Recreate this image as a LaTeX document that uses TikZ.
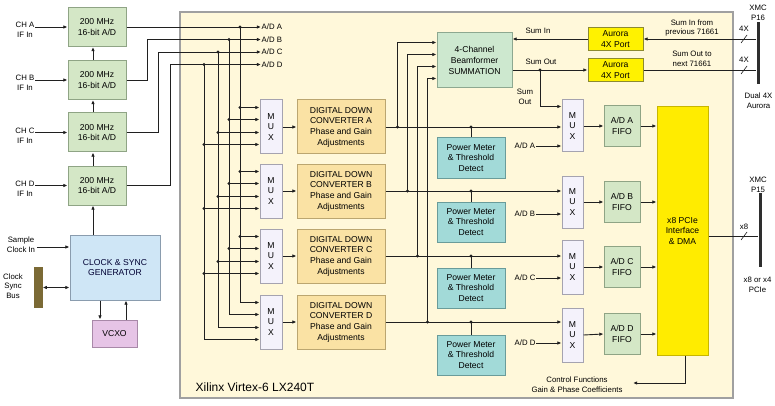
\documentclass[tikz,border=0pt]{standalone}
\usepackage{fontspec}
\setmainfont{Liberation Sans}
\usetikzlibrary{arrows.meta,calc}
\newcommand\bxf{\fontsize{8.6}{10.6}\selectfont}
\newcommand\lbf{\fontsize{7.8}{9.6}\selectfont}
\newcommand\xilf{\fontsize{12}{14}\selectfont}
\definecolor{fpgaF}{HTML}{FFF8DA}
\definecolor{fpgaD}{HTML}{A0A0A0}
\definecolor{adF}{HTML}{D4E7C6}
\definecolor{adD}{HTML}{8FA485}
\definecolor{clkF}{HTML}{CFE6F6}
\definecolor{clkD}{HTML}{8A9CAE}
\definecolor{vcxoF}{HTML}{E6C4E6}
\definecolor{vcxoD}{HTML}{A888A8}
\definecolor{muxF}{HTML}{F4F2FB}
\definecolor{muxD}{HTML}{A5A3B0}
\definecolor{ddcF}{HTML}{FAE2A4}
\definecolor{ddcD}{HTML}{BBA670}
\definecolor{bfF}{HTML}{CDE8CF}
\definecolor{bfD}{HTML}{8DA890}
\definecolor{aurF}{HTML}{FFF200}
\definecolor{aurD}{HTML}{8C8A30}
\definecolor{pmF}{HTML}{A2DAD8}
\definecolor{pmD}{HTML}{6A9C9A}
\definecolor{pcieF}{HTML}{FFEC00}
\definecolor{pcieD}{HTML}{C8B600}
\definecolor{busC}{HTML}{2E2E2E}
\definecolor{csbC}{HTML}{7B6A35}
\definecolor{lnC}{HTML}{202020}
\tikzset{
  base/.style={draw, line width=1pt, align=center, inner sep=0pt, font=\bxf, text=black},
  fpga/.style={draw=fpgaD, fill=fpgaF, line width=1.6pt, minimum width=553pt, minimum height=386pt, inner sep=0pt},
  adbox/.style={base, fill=adF, draw=adD, minimum width=58pt, minimum height=39pt},
  clkbox/.style={base, fill=clkF, draw=clkD, minimum width=90pt, minimum height=65pt, text=black!80!blue},
  vcxobox/.style={base, fill=vcxoF, draw=vcxoD, minimum width=45pt, minimum height=27pt},
  muxbox/.style={base, fill=muxF, draw=muxD, minimum width=22pt, minimum height=54pt},
  ddcbox/.style={base, fill=ddcF, draw=ddcD, minimum width=88pt, minimum height=54pt},
  bfbox/.style={base, fill=bfF, draw=bfD, minimum width=75pt, minimum height=55pt},
  aurbox/.style={base, fill=aurF, draw=aurD, minimum width=55pt, minimum height=23pt},
  pmbox/.style={base, fill=pmF, draw=pmD, minimum width=68pt, minimum height=40pt},
  fifobox/.style={base, fill=adF, draw=adD, minimum width=36pt, minimum height=41pt},
  pciebox/.style={base, fill=pcieF, draw=pcieD, minimum width=51pt, minimum height=248pt},
  busbar/.style={fill=busC, draw=none, minimum width=3pt, inner sep=0pt},
  csbar/.style={fill=csbC, draw=none, minimum width=9pt, minimum height=41pt, inner sep=0pt},
  lbl/.style={align=center, inner sep=0.5pt, font=\lbf},
  ln/.style={draw=lnC, line width=0.9pt},
  arr/.style={ln, -{Latex[length=4.2pt,width=3.6pt]}},
  arrtwo/.style={ln, {Latex[length=4.2pt,width=3.6pt]}-{Latex[length=4.2pt,width=3.6pt]}},
}
\begin{document}
\begin{tikzpicture}[x=1pt,y=-1pt]
\useasboundingbox (0,0) rectangle (775,406);
% FPGA
\node[fpga] (fpga) at (456.5,205) {};
\node[lbl, anchor=west, font=\xilf] (xil) at (195,387) {Xilinx Virtex-6 LX240T};

% A/D converters
\node[adbox] (adA) at (97,27) {200 MHz\\16-bit A/D};
\node[adbox] (adB) at (97,80) {200 MHz\\16-bit A/D};
\node[adbox] (adC) at (97,132.5) {200 MHz\\16-bit A/D};
\node[adbox] (adD) at (97,185.5) {200 MHz\\16-bit A/D};
\node[lbl] (chA) at (25,30) {CH A\\IF In};
\node[lbl] (chB) at (25,83) {CH B\\IF In};
\node[lbl] (chC) at (25,135.5) {CH C\\IF In};
\node[lbl] (chD) at (25,188.5) {CH D\\IF In};
\foreach \c in {A,B,C,D}{
  \draw[arr] (ch\c.east |- ad\c.west) -- (ad\c.west);
}

% Clock
\node[clkbox] (clk) at (115,267.5) {CLOCK \& SYNC\\GENERATOR};
\node[lbl] (sclk) at (21,245) {Sample\\Clock In};
\coordinate (sce) at ($(sclk.east)+(1,2)$);
\draw[arr] (sce) -- (sce -| clk.west);
\node[csbar] (csb) at (38,287.5) {};
\node[lbl] (csbl) at (13,286) {Clock\\Sync\\Bus};
\draw[arrtwo] (csb.east) -- (csb.east -| clk.west);
\coordinate (chn) at (93,0);
\draw[arr] (clk.north -| chn) -- (adD.south -| chn);
\draw[arr] (adD.north -| chn) -- (adC.south -| chn);
\draw[arr] (adC.north -| chn) -- (adB.south -| chn);
\draw[arr] (adB.north -| chn) -- (adA.south -| chn);
\node[vcxobox] (vcxo) at (114.5,333.5) {VCXO};
\coordinate (cv1) at (100,0);
\coordinate (cv2) at (126,0);
\draw[arr] (clk.south -| cv1) -- (vcxo.north -| cv1);
\draw[arr] (vcxo.north -| cv2) -- (clk.south -| cv2);

% A/D outputs
\node[lbl, anchor=west] (lA) at (261,27) {A/D A};
\node[lbl, anchor=west] (lB) at (261,39.5) {A/D B};
\node[lbl, anchor=west] (lC) at (261,52) {A/D C};
\node[lbl, anchor=west] (lD) at (261,64.5) {A/D D};
\draw[arr] (adA.east) -- (lA.west);
\draw[arr] (adB.east) -- ++(21,0) |- (lB.west);
\draw[arr] (adC.east) -- ++(32,0) |- (lC.west);
\draw[arr] (adD.east) -- ++(44,0) |- (lD.west);
\coordinate (vA) at (240,27);
\coordinate (vB) at (229,39.5);
\coordinate (vC) at (218,52);
\coordinate (vD) at (204,64.5);
\foreach \v in {vA,vB,vC,vD}{\fill[lnC] (\v) circle (1.7pt);}

% Left MUXes and DDCs
\node[muxbox] (muxA) at (271,127) {M\\U\\X};
\node[muxbox] (muxB) at (271,191) {M\\U\\X};
\node[muxbox] (muxC) at (271,256) {M\\U\\X};
\node[muxbox] (muxD) at (271,322) {M\\U\\X};
\node[ddcbox] (ddcA) at (341,127) {DIGITAL DOWN\\CONVERTER A\\Phase and Gain\\Adjustments};
\node[ddcbox] (ddcB) at (341,191) {DIGITAL DOWN\\CONVERTER B\\Phase and Gain\\Adjustments};
\node[ddcbox] (ddcC) at (341,256) {DIGITAL DOWN\\CONVERTER C\\Phase and Gain\\Adjustments};
\node[ddcbox] (ddcD) at (341,322) {DIGITAL DOWN\\CONVERTER D\\Phase and Gain\\Adjustments};
\foreach \m in {muxA,muxB,muxC}{
  \foreach \v/\o in {vA/8,vB/20,vC/33,vD/45}{
    \coordinate (ip) at ($(\m.north west)+(0,\o)$);
    \draw[arr] (\v |- ip) -- (ip);
    \fill[lnC] (\v |- ip) circle (1.7pt);
  }
}
\foreach \v/\o in {vA/8,vB/20,vC/33,vD/45}{
  \draw[arr] (\v) |- ($(muxD.north west)+(0,\o)$);
}
\foreach \c in {A,B,C,D}{
  \draw[arr] (mux\c.east) -- (ddc\c.west);
}

% Beamformer and Aurora
\node[bfbox] (bf) at (474.5,60.5) {4-Channel\\Beamformer\\SUMMATION};
\node[aurbox] (aurI) at (615.5,39) {Aurora\\4X Port};
\node[aurbox] (aurO) at (615.5,70) {Aurora\\4X Port};

% Power meters
\node[pmbox] (pmA) at (471,158) {Power Meter\\\& Threshold\\Detect};
\node[pmbox] (pmB) at (471,222) {Power Meter\\\& Threshold\\Detect};
\node[pmbox] (pmC) at (471,288) {Power Meter\\\& Threshold\\Detect};
\node[pmbox] (pmD) at (471,355) {Power Meter\\\& Threshold\\Detect};

% Right MUXes, FIFOs, PCIe
\node[muxbox, minimum width=21pt, minimum height=52pt] (rmA) at (572.5,126) {M\\U\\X};
\node[muxbox, minimum width=21pt, minimum height=52pt] (rmB) at (572.5,202) {M\\U\\X};
\node[muxbox, minimum width=21pt, minimum height=54pt] (rmC) at (572.5,267) {M\\U\\X};
\node[muxbox, minimum width=21pt, minimum height=54pt] (rmD) at (572.5,335) {M\\U\\X};
\node[fifobox] (fA) at (622,126) {A/D A\\FIFO};
\node[fifobox] (fB) at (622,202) {A/D B\\FIFO};
\node[fifobox] (fC) at (622,267) {A/D C\\FIFO};
\node[fifobox] (fD) at (622,334) {A/D D\\FIFO};
\node[pciebox] (pcie) at (682.5,231) {x8 PCIe\\Interface\\\& DMA};

% DDC outputs
\foreach \c/\dx/\o in {A/12/10,B/22/22,C/32/34,D/42/46}{
  \draw[arr] (ddc\c.east) -- (ddc\c.east -| rm\c.west);
  \coordinate (j\c) at ($(ddc\c.east)+(\dx,0)$);
  \draw[arr] (j\c) |- ($(bf.north west)+(0,\o)$);
  \fill[lnC] (j\c) circle (1.7pt);
  \coordinate (p\c) at (pm\c.north |- ddc\c.east);
  \draw[ln] (p\c) -- (pm\c.north);
  \fill[lnC] (p\c) circle (1.7pt);
}

% A/D direct inputs to right MUXes
\node[lbl, anchor=west] (rlA) at (514,146) {A/D A};
\node[lbl, anchor=west] (rlB) at (514,214) {A/D B};
\node[lbl, anchor=west] (rlC) at (514,278) {A/D C};
\node[lbl, anchor=west] (rlD) at (514,343) {A/D D};
\foreach \c in {A,B,C,D}{
  \draw[arr] (rl\c.east) -- (rl\c.east -| rm\c.west);
  \draw[arr] (rm\c.east) -- (f\c.west);
  \draw[arr] (f\c.east) -- (f\c.east -| pcie.west);
}

% Sum paths
\node[lbl] (suminl) at (538,31) {Sum In};
\node[lbl] (sumoutl) at (541,62) {Sum Out};
\node[lbl] (sumoutb) at (525,97) {Sum\\Out};
\draw[arr] (aurI.west) -- (aurI.west -| bf.east);
\draw[arr] (aurO.west -| bf.east) -- (aurO.west);
\coordinate (so) at (540,70);
\draw[arr] (so) |- ($(rmA.north west)+(0,7)$);
\fill[lnC] (so) circle (1.7pt);

% XMC P16
\node[busbar, minimum height=62pt] (p16) at (758,53) {};
\node[lbl] (xmc16) at (758,13) {XMC\\P16};
\node[lbl] (dual) at (758.5,101) {Dual 4X\\Aurora};
\node[lbl] (prev) at (692,28) {Sum In from\\previous 71661};
\node[lbl] (next) at (692,59) {Sum Out to\\next 71661};
\draw[arr] (aurI.east -| p16.west) -- (aurI.east);
\draw[ln] (aurO.east) -- (aurO.east -| p16.west);
\node[lbl] (fx1) at (744,29) {4X};
\node[lbl] (fx2) at (744,60) {4X};
\draw[ln, line width=0.6pt] (741,43) -- (747,35);
\draw[ln, line width=0.6pt] (741,74) -- (747,66);

% XMC P15
\node[busbar, minimum height=74pt] (p15) at (760,230) {};
\node[lbl] (xmc15) at (758,185) {XMC\\P15};
\node[lbl] (x8x4) at (757.5,285) {x8 or x4\\PCIe};
\coordinate (pe) at ($(pcie.east)+(0,5)$);
\draw[ln] (pe) -- (pe -| p15.west);
\node[lbl] (x8l) at (744,227) {x8};
\draw[ln, line width=0.6pt] (741,240) -- (747,232);

% Control
\node[lbl] (ctl) at (577,385) {Control Functions\\Gain \& Phase Coefficients};
\coordinate (ctlEnd) at (633,383);
\draw[arr] ($(pcie.south)+(2.5,0)$) |- (ctlEnd);
\end{tikzpicture}
\end{document}
